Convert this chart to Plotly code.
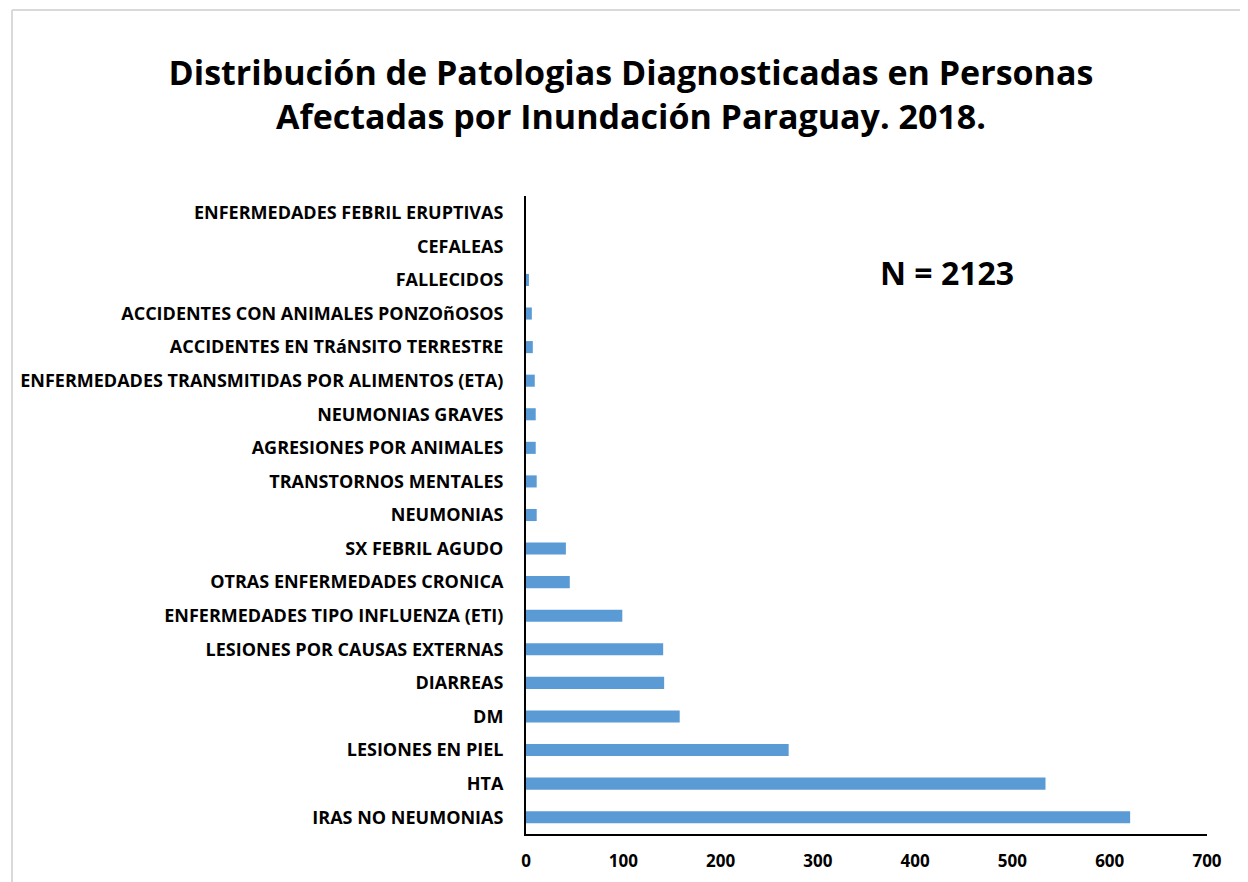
import plotly.graph_objects as go

categories = [
    "IRAS NO NEUMONIAS",
    "HTA",
    "LESIONES EN PIEL",
    "DM",
    "DIARREAS",
    "LESIONES POR CAUSAS EXTERNAS",
    "ENFERMEDADES TIPO INFLUENZA (ETI)",
    "OTRAS ENFERMEDADES CRONICA",
    "SX FEBRIL AGUDO",
    "NEUMONIAS",
    "TRANSTORNOS MENTALES",
    "AGRESIONES POR ANIMALES",
    "NEUMONIAS GRAVES",
    "ENFERMEDADES TRANSMITIDAS POR ALIMENTOS (ETA)",
    "ACCIDENTES EN TRáNSITO TERRESTRE",
    "ACCIDENTES CON ANIMALES PONZOñOSOS",
    "FALLECIDOS",
    "CEFALEAS",
    "ENFERMEDADES FEBRIL ERUPTIVAS",
]
values = [621, 534, 270, 158, 142, 141, 99, 45, 41, 11, 11, 10, 10, 9, 7, 6, 3, 0, 0]
x_ticks = [0, 100, 200, 300, 400, 500, 600, 700]

title_text = "Distribución de Patologias Diagnosticadas en Personas<br>Afectadas por Inundación Paraguay. 2018."
note_text = "N = 2123"

W, H = 1248, 882
# page has an 8px body margin, so figure coords = screen coords - 8
L, R, T, B = 516, 49, 188, 56
pw, ph = W - L - R, H - T - B

fig = go.Figure(go.Bar(
    x=values, y=categories, orientation="h",
    marker=dict(color="#5B9BD5", line=dict(width=0)),
    width=0.36,
))

font_fam = "Open Sans"

fig.update_layout(
    width=W, height=H,
    margin=dict(l=L, r=R, t=T, b=B),
    paper_bgcolor="white", plot_bgcolor="white",
    showlegend=False,
    title=dict(
        text=title_text, x=623 / W, xanchor="center", xref="container",
        y=1 - 77 / H, yanchor="middle", yref="container",
        font=dict(family=font_fam, size=34, color="black", weight="bold"),
    ),
    bargap=0.64,
)

fig.update_xaxes(
    range=[0, 700], tickvals=x_ticks, ticks="", showgrid=False, zeroline=False,
    showline=True, linecolor="black", linewidth=2,
    tickfont=dict(family=font_fam, size=17, color="black", weight="bold"),
    ticklabelstandoff=11, fixedrange=True,
)
fig.update_yaxes(
    ticks="", showgrid=False, zeroline=False,
    showline=True, linecolor="black", linewidth=2,
    tickfont=dict(family=font_fam, size=18, color="black", weight="bold"),
    ticklabelstandoff=17, range=[-0.5, len(categories) - 0.5],
)

fig.add_annotation(
    text=note_text, xref="paper", yref="paper",
    x=(938 - L) / pw, y=(H - B - 264) / ph, xanchor="center", yanchor="middle",
    showarrow=False, font=dict(family=font_fam, size=32, color="black", weight="bold"),
)

# chart frame (light gray)
fx = (0.5 - L) / pw
fy = (H - B - 2) / ph
fig.add_shape(type="line", xref="paper", yref="paper", x0=fx, x1=(W - L) / pw + 0.01,
              y0=fy, y1=fy, line=dict(color="#d9d9d9", width=2))
fig.add_shape(type="line", xref="paper", yref="paper", x0=fx, x1=fx,
              y0=fy, y1=-B / ph - 0.01, line=dict(color="#d9d9d9", width=2))

fig.write_html("out.html")
